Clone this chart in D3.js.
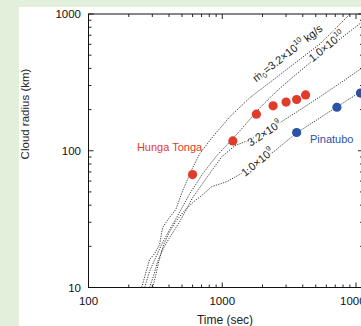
<!DOCTYPE html>
<html><head><meta charset="utf-8">
<script src="https://cdn.jsdelivr.net/npm/d3@7"></script>
<style>html,body{margin:0;padding:0;background:#e2efda;}svg{display:block;}</style>
</head><body>
<script>
// ---- data ----
const hungaTime   = [600, 1200, 1800, 2400, 3000, 3600, 4200];
const hungaRadius = [67, 118, 185, 213, 227, 237, 256];
const pinaTime    = [3600, 7200, 10800];
const pinaRadius  = [136, 208, 264];

const curveA_t = [250,267,286,312,340,358,397,449,506,591,678,849,1138,1607,2938,5376,9020];
const curveA_r = [10,12.6,16,17.7,20.6,27.4,31.9,37.1,51.1,72.6,95.1,126.5,177,244,384,604,1000];
const curveB_t = [263,286,318,352,404,464,571,714,909,1199,1527,1909,2473,3318,4520,6385,11090];
const curveB_r = [10,13.1,16.6,20.6,26.5,33.5,48.5,67.9,92,122.3,160,206,265,341,439,574,875];
const curveC_t = [286,307,329,358,404,481,601,765,991,1241,1607,2081,2839,3808,5376,8273,11090];
const curveC_r = [10,12.2,15.5,18.9,23.2,30.3,45.4,63.5,90.4,108.7,120.3,137.6,165.5,199,248,330,403];
const curveD_t = [302,318,335,365,404,449,515,601,714,834,1081,1424,1845,2473,3614,5105,7208,11090];
const curveD_r = [10,12.2,15.5,20.6,25.6,30.3,35.9,41.7,47.7,54.6,59.4,69.1,81.7,100,135.3,168.4,209.4,274];

const xTickLabels = ["100", "1000", "10000"];
const yTickLabels = ["10", "100", "1000"];
const xMinor = [200,300,400,500,600,700,800,900,2000,3000,4000,5000,6000,7000,8000,9000];
const yMinor = [20,30,40,50,60,70,80,90,200,300,400,500,600,700,800,900];

(function () {
const W = 361, H = 326;
const svg = d3.select("body").append("svg").attr("width", W).attr("height", H);
svg.append("rect").attr("width", W).attr("height", H).attr("fill", "#e2efda");
svg.append("rect").attr("x", 19).attr("y", 7).attr("width", W).attr("height", H).attr("fill", "#ffffff");

const x = d3.scaleLog().domain([100, 10000]).range([88.5, 356]);
const y = d3.scaleLog().domain([10, 1000]).range([287.5, 14]);
const pL = 88.5, pR = 363, pT = 14, pB = 287.5;
const font = "'Liberation Sans', Arial, Helvetica, sans-serif";

svg.append("clipPath").attr("id", "plotclip").append("rect")
  .attr("x", pL).attr("y", pT).attr("width", pR - pL).attr("height", pB - pT);

const line = d3.line().x(d => x(d[0])).y(d => y(d[1]));
const curves = [[curveA_t, curveA_r], [curveB_t, curveB_r], [curveC_t, curveC_r], [curveD_t, curveD_r]];
const g = svg.append("g").attr("clip-path", "url(#plotclip)");
curves.forEach(([ts, rs]) => {
  g.append("path").datum(ts.map((t, i) => [t, rs[i]]))
    .attr("d", line).attr("fill", "none").attr("stroke", "#2e2e2e")
    .attr("stroke-width", 0.95).attr("stroke-dasharray", "1.2,1.3");
});

function curveLabel(t, r, angle, parts) {
  const txt = g.append("text")
    .attr("transform", `translate(${x(t)},${y(r)}) rotate(${angle})`)
    .attr("text-anchor", "middle").attr("dominant-baseline", "middle")
    .attr("font-family", font).attr("font-size", 11).attr("fill", "#1a1a1a")
    .attr("stroke", "#fff").attr("stroke-width", 3).attr("paint-order", "stroke");
  parts.forEach(p => {
    const ts = txt.append("tspan").text(p.s);
    if (p.sup) ts.attr("font-size", 7.5).attr("dy", -4);
    if (p.sub) ts.attr("font-size", 7.5).attr("dy", 3);
    if (p.back) ts.attr("dy", p.back);
  });
}
curveLabel(3098, 511, -38, [{s: "ṁ"}, {s: "0", sub: true}, {s: "=3.2×10", back: -3}, {s: "10", sup: true}, {s: " kg/s", back: 4}]);
curveLabel(6067, 574, -39, [{s: "1.0×10"}, {s: "10", sup: true}]);
curveLabel(2081, 133, -33, [{s: "3.2×10"}, {s: "9", sup: true}]);
curveLabel(1845, 81.7, -39, [{s: "1.0×10"}, {s: "9", sup: true}]);

g.selectAll(".h").data(hungaTime).enter().append("circle")
  .attr("cx", d => x(d)).attr("cy", (d, i) => y(hungaRadius[i])).attr("r", 4.6).attr("fill", "#e13b29");
svg.selectAll(".p").data(pinaTime).enter().append("circle")
  .attr("cx", d => x(d)).attr("cy", (d, i) => y(pinaRadius[i])).attr("r", 4.6).attr("fill", "#2853a6");

svg.append("text").attr("x", 169.5).attr("y", 151).attr("text-anchor", "middle")
  .attr("font-family", font).attr("font-size", 11).attr("fill", "#e13b29").text("Hunga Tonga");
svg.append("text").attr("x", 310).attr("y", 142.5)
  .attr("font-family", font).attr("font-size", 11).attr("fill", "#2853a6").text("Pinatubo");

svg.append("rect").attr("x", pL).attr("y", pT).attr("width", pR - pL).attr("height", pB - pT)
  .attr("fill", "none").attr("stroke", "#111").attr("stroke-width", 1);

const tk = svg.append("g").attr("stroke", "#111").attr("stroke-width", 0.9);
const xMajor = xTickLabels.map(Number), yMajor = yTickLabels.map(Number);
xMajor.forEach(v => {
  tk.append("line").attr("x1", x(v)).attr("x2", x(v)).attr("y1", pB).attr("y2", pB - 5);
  tk.append("line").attr("x1", x(v)).attr("x2", x(v)).attr("y1", pT).attr("y2", pT + 5);
});
xMinor.forEach(v => {
  tk.append("line").attr("x1", x(v)).attr("x2", x(v)).attr("y1", pB).attr("y2", pB - 3);
  tk.append("line").attr("x1", x(v)).attr("x2", x(v)).attr("y1", pT).attr("y2", pT + 3);
});
yMajor.forEach(v => {
  tk.append("line").attr("x1", pL).attr("x2", pL + 5).attr("y1", y(v)).attr("y2", y(v));
  tk.append("line").attr("x1", pR).attr("x2", pR - 5).attr("y1", y(v)).attr("y2", y(v));
});
yMinor.forEach(v => {
  tk.append("line").attr("x1", pL).attr("x2", pL + 3).attr("y1", y(v)).attr("y2", y(v));
  tk.append("line").attr("x1", pR).attr("x2", pR - 3).attr("y1", y(v)).attr("y2", y(v));
});

xTickLabels.forEach(s => {
  svg.append("text").attr("x", x(+s)).attr("y", 305).attr("text-anchor", "middle")
    .attr("font-family", font).attr("font-size", 11.5).attr("fill", "#111").text(s);
});
yTickLabels.forEach(s => {
  svg.append("text").attr("x", 81).attr("y", y(+s) + 4).attr("text-anchor", "end")
    .attr("font-family", font).attr("font-size", 11.5).attr("fill", "#111").text(s);
});

svg.append("text").attr("x", 225).attr("y", 324).attr("text-anchor", "middle")
  .attr("font-family", font).attr("font-size", 12).attr("fill", "#222").text("Time (sec)");
svg.append("text").attr("transform", "translate(29,114) rotate(-90)").attr("text-anchor", "middle")
  .attr("font-family", font).attr("font-size", 11.5).attr("fill", "#222").text("Cloud radius (km)");
})();
</script>
</body></html>
